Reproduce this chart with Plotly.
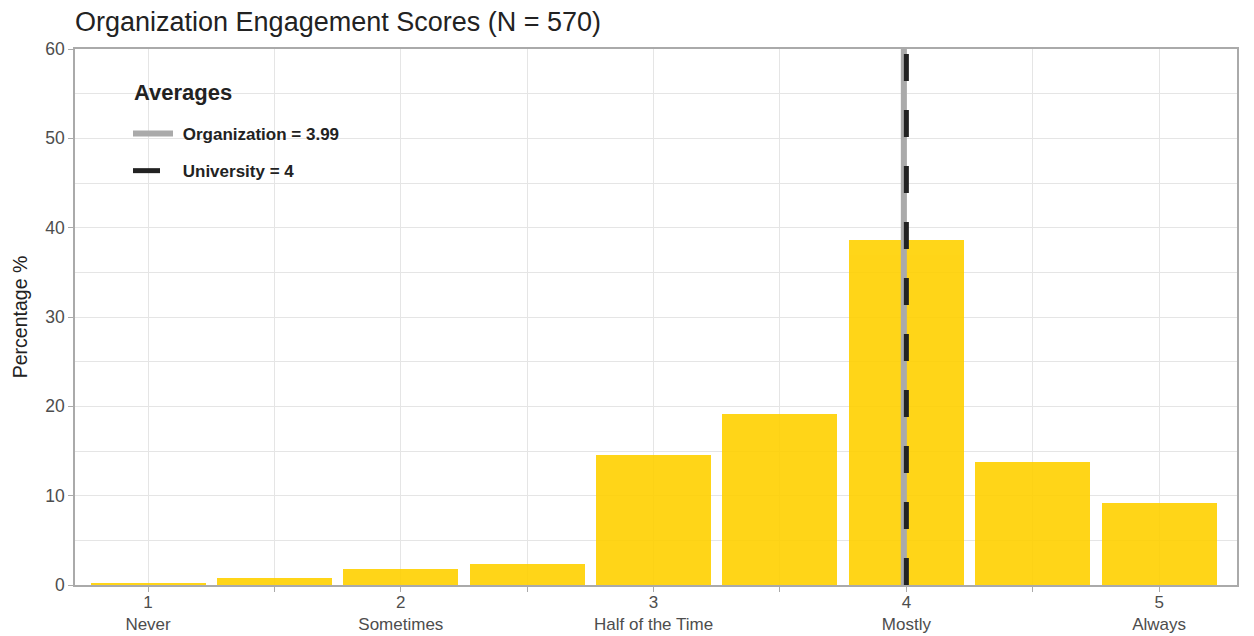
import plotly.graph_objects as go

# data
scores = [1, 1.5, 2, 2.5, 3, 3.5, 4, 4.5, 5]
percentages = [0.2, 0.8, 1.8, 2.35, 14.55, 19.15, 38.6, 13.8, 9.2]
tick_vals = [1, 2, 3, 4, 5]
tick_labels = ['1<br>Never', '2<br>Sometimes', '3<br>Half of the Time', '4<br>Mostly', '5<br>Always']
org_avg = 3.99
uni_avg = 4

FONT = 'Liberation Sans, Arial, sans-serif'
W, H = 1254, 636
L, R, T, B = 75, 17, 49, 51
PW, PH = W - L - R, H - T - B


def px_x(p):
    return (p - L) / PW


def px_y(p):
    return 1 - (p - T) / PH


fig = go.Figure()

fig.add_trace(go.Bar(
    x=scores,
    y=percentages,
    width=0.455,
    marker=dict(color='#FFD100', line=dict(width=0)),
    opacity=0.9,
    showlegend=False,
    hoverinfo='x+y'
))

fig.add_trace(go.Scatter(
    x=[org_avg, org_avg],
    y=[0, 60],
    mode='lines',
    line=dict(color='#aaaaaa', width=6),
    name='\u00a0Organization = 3.99',
    legendgroup='org'
))

fig.add_trace(go.Scatter(
    x=[uni_avg, uni_avg],
    y=[0, 60],
    mode='lines',
    line=dict(color='#222222', width=5, dash='27px,29px'),
    name='\u00a0University = 4',
    legendgroup='uni'
))

# white legend box behind the legend (covers grid lines)
fig.add_shape(type='rect', xref='paper', yref='paper',
              x0=px_x(120), x1=px_x(365), y0=px_y(190), y1=px_y(78),
              fillcolor='white', line=dict(width=0), layer='below')

fig.add_annotation(text='<b>Averages</b>', xref='paper', yref='paper',
                   x=px_x(132), y=px_y(92), xanchor='left', yanchor='middle',
                   showarrow=False, font=dict(size=22, color='#222222'))

fig.update_layout(
    width=W,
    height=H,
    margin=dict(l=L, r=R, t=T, b=B),
    plot_bgcolor='white',
    paper_bgcolor='white',
    font=dict(family=FONT, color='#222222'),
    title=dict(
        text='Organization Engagement Scores (N = 570)',
        x=L / W, xanchor='left',
        y=1 - 22 / H, yanchor='middle',
        font=dict(size=27, color='#222222')
    ),
    bargap=0,
    legend=dict(
        font=dict(size=17, color='#222222', weight='bold'),
        x=px_x(128), xanchor='left',
        y=px_y(116), yanchor='top',
        bgcolor='rgba(0,0,0,0)',
        traceorder='grouped',
        tracegroupgap=12,
        itemwidth=40
    ),
    xaxis=dict(
        range=[0.711, 5.308],
        tickvals=tick_vals,
        ticktext=tick_labels,
        tickfont=dict(size=17, color='#4d4d4d'),
        ticks='outside', ticklen=5, tickcolor='#aaaaaa',
        ticklabelstandoff=-4,
        showgrid=True, gridcolor='#e5e5e5', gridwidth=1,
        minor=dict(tick0=1.5, dtick=1, showgrid=True, gridcolor='#e5e5e5',
                   ticks='outside', ticklen=5, tickcolor='#aaaaaa'),
        showline=True, linecolor='#aaaaaa', linewidth=1.5, mirror=True,
        zeroline=False, automargin=False
    ),
    yaxis=dict(
        range=[0, 60],
        tickvals=[0, 10, 20, 30, 40, 50, 60],
        tickfont=dict(size=17.5, color='#4d4d4d'),
        ticks='outside', ticklen=5, tickcolor='#aaaaaa',
        showgrid=True, gridcolor='#e5e5e5', gridwidth=1,
        minor=dict(tick0=5, dtick=10, showgrid=True, gridcolor='#e5e5e5'),
        showline=True, linecolor='#aaaaaa', linewidth=1.5, mirror=True,
        zeroline=False, automargin=False,
        title=dict(text='Percentage %', font=dict(size=19.5, color='#222222'), standoff=12)
    )
)

fig.write_html('out.html', config={'displayModeBar': False},
               post_script="document.body.style.margin='0';")
